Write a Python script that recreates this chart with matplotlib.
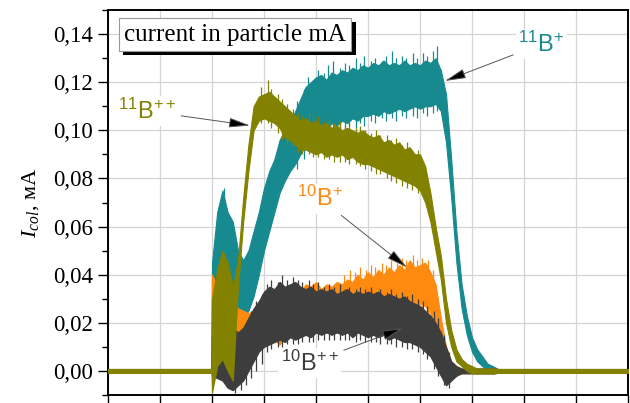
import numpy as np
import matplotlib
matplotlib.use("Agg")
import matplotlib.pyplot as plt
from matplotlib.ticker import MultipleLocator, FuncFormatter
from matplotlib import patheffects as pe

plt.rcParams['font.family'] = ['Liberation Serif', 'DejaVu Serif']
plt.rcParams['mathtext.fontset'] = 'custom'
plt.rcParams['mathtext.rm'] = 'Liberation Serif'
plt.rcParams['mathtext.it'] = 'Liberation Serif:italic'
plt.rcParams['mathtext.sf'] = 'Liberation Sans'

# время (усл. ед.), шаг 0.1 на участке импульса
t_pulse = np.round(np.arange(2.0, 7.45, 0.1), 2)
t_before = [0.0, 1.99]
t_after = [7.5, 10.0]
base_lo = [-0.0008, -0.0008]
base_hi = [0.0008, 0.0008]

# 11B+ (бирюзовый)
b11p_lo = [0.030, 0.038, 0.040, 0.042, 0.035, 0.024, 0.022, 0.025, 0.031, 0.040,
           0.050, 0.058, 0.066, 0.074, 0.079, 0.083, 0.086, 0.090, 0.094, 0.097,
           0.100, 0.101, 0.100, 0.103, 0.102, 0.104, 0.103, 0.105, 0.104, 0.106,
           0.106, 0.107, 0.106, 0.108, 0.107, 0.108, 0.109, 0.108, 0.109, 0.110,
           0.109, 0.110, 0.110, 0.111, 0.108, 0.095, 0.072, 0.045, 0.026, 0.015,
           0.008, 0.004, 0.002, 0.000, -0.001]
b11p_hi = [0.045, 0.066, 0.075, 0.066, 0.062, 0.050, 0.046, 0.050, 0.058, 0.066,
           0.076, 0.083, 0.088, 0.096, 0.100, 0.103, 0.108, 0.113, 0.118, 0.120,
           0.122, 0.123, 0.121, 0.124, 0.123, 0.125, 0.124, 0.126, 0.125, 0.127,
           0.126, 0.128, 0.127, 0.129, 0.127, 0.128, 0.127, 0.129, 0.127, 0.128,
           0.127, 0.129, 0.128, 0.130, 0.125, 0.115, 0.088, 0.058, 0.036, 0.023,
           0.014, 0.009, 0.006, 0.003, 0.002]

# 11B++ (оливковый)
b11pp_lo = [-0.009, 0.002, 0.005, 0.000, -0.004, 0.035, 0.062, 0.083, 0.100, 0.104,
            0.105, 0.104, 0.103, 0.101, 0.097, 0.096, 0.094, 0.092, 0.092, 0.091,
            0.090, 0.091, 0.089, 0.090, 0.089, 0.090, 0.088, 0.089, 0.087, 0.086,
            0.086, 0.085, 0.084, 0.083, 0.082, 0.081, 0.080, 0.079, 0.078, 0.077,
            0.075, 0.070, 0.062, 0.050, 0.038, 0.020, 0.010, 0.004, 0.002, 0.000,
            -0.001, -0.001, -0.001, -0.001, -0.001]
b11pp_hi = [0.030, 0.042, 0.050, 0.045, 0.035, 0.046, 0.072, 0.094, 0.110, 0.114,
            0.115, 0.116, 0.114, 0.112, 0.110, 0.108, 0.106, 0.104, 0.105, 0.103,
            0.104, 0.102, 0.103, 0.101, 0.102, 0.100, 0.101, 0.100, 0.099, 0.100,
            0.098, 0.097, 0.098, 0.095, 0.096, 0.094, 0.095, 0.092, 0.093, 0.090,
            0.090, 0.085, 0.074, 0.060, 0.048, 0.030, 0.017, 0.009, 0.005, 0.003,
            0.002, 0.001, 0.001, 0.001, 0.001]

# 10B+ (оранжевый)
b10p_lo = [0.000, 0.000, 0.000, 0.002, 0.008, 0.012, 0.014, 0.013, 0.012, 0.013,
           0.012, 0.012, 0.013, 0.011, 0.014, 0.015, 0.017, 0.018, 0.020, 0.019,
           0.021, 0.020, 0.022, 0.021, 0.023, 0.022, 0.024, 0.023, 0.025, 0.024,
           0.025, 0.026, 0.025, 0.027, 0.026, 0.027, 0.028, 0.027, 0.028, 0.027,
           0.028, 0.027, 0.024, 0.018, 0.008, 0.002, 0.000, -0.001, -0.001, -0.001,
           -0.001, -0.001, -0.001, -0.001, -0.001]
b10p_hi = [0.040, 0.035, 0.040, 0.032, 0.030, 0.026, 0.025, 0.024, 0.025, 0.027,
           0.028, 0.027, 0.029, 0.030, 0.030, 0.031, 0.032, 0.033, 0.036, 0.035,
           0.037, 0.034, 0.036, 0.035, 0.037, 0.036, 0.038, 0.037, 0.040, 0.038,
           0.041, 0.039, 0.042, 0.040, 0.043, 0.041, 0.044, 0.042, 0.046, 0.043,
           0.044, 0.045, 0.041, 0.036, 0.022, 0.010, 0.004, 0.002, 0.001, 0.001,
           0.001, 0.001, 0.001, 0.001, 0.001]

# 10B++ (тёмно-серый)
b10pp_lo = [-0.002, -0.003, -0.004, -0.007, -0.008, -0.006, -0.004, 0.000, 0.004, 0.008,
            0.010, 0.011, 0.012, 0.013, 0.012, 0.014, 0.013, 0.014, 0.015, 0.014,
            0.016, 0.015, 0.016, 0.015, 0.016, 0.015, 0.016, 0.014, 0.016, 0.015,
            0.014, 0.015, 0.014, 0.015, 0.013, 0.014, 0.013, 0.012, 0.012, 0.011,
            0.010, 0.008, 0.006, 0.002, -0.002, -0.006, -0.004, -0.002, -0.001, -0.001,
            -0.001, -0.001, -0.001, -0.001, -0.001]
b10pp_hi = [0.015, 0.015, 0.018, 0.020, 0.018, 0.016, 0.018, 0.022, 0.026, 0.029,
            0.033, 0.035, 0.034, 0.037, 0.035, 0.036, 0.037, 0.035, 0.034, 0.035,
            0.033, 0.034, 0.033, 0.034, 0.032, 0.033, 0.034, 0.032, 0.033, 0.032,
            0.033, 0.032, 0.033, 0.031, 0.032, 0.031, 0.030, 0.031, 0.029, 0.028,
            0.027, 0.025, 0.023, 0.020, 0.016, 0.010, 0.004, 0.002, 0.001, 0.001,
            0.001, 0.001, 0.001, 0.001, 0.001]

# отдельные выбросы шума: положение, низ, верх
b11p_spk_x = [2.23, 3.63, 3.76, 3.84, 3.97, 4.04, 4.16, 4.24, 4.33, 4.46, 4.55, 4.63,
              4.77, 4.85, 4.93, 5.06, 5.14, 5.27, 5.35, 5.46, 5.53, 5.66, 5.74, 5.86,
              5.94, 6.06, 6.14, 6.25, 6.33]
b11p_spk_lo = [0.045, 0.084, 0.088, 0.092, 0.094, 0.097, 0.096, 0.099, 0.098, 0.101, 0.100, 0.102,
               0.101, 0.103, 0.102, 0.104, 0.103, 0.105, 0.104, 0.105, 0.104, 0.106, 0.105, 0.106,
               0.105, 0.107, 0.106, 0.107, 0.108]
b11p_spk_hi = [0.076, 0.112, 0.117, 0.122, 0.121, 0.125, 0.124, 0.127, 0.129, 0.126, 0.128, 0.127,
               0.130, 0.128, 0.131, 0.129, 0.130, 0.129, 0.131, 0.133, 0.130, 0.131, 0.130, 0.132,
               0.130, 0.132, 0.131, 0.133, 0.135]
b11pp_spk_x = [2.95, 3.07, 3.14, 3.26, 3.35, 3.44, 3.56, 3.65, 3.74, 3.86, 3.95, 4.04,
               4.16, 4.25, 4.34, 4.46, 4.55, 4.64, 4.76, 4.85, 4.94, 5.06, 5.15, 5.24,
               5.36, 5.45, 5.54, 5.66, 5.75, 5.84, 5.96]
b11pp_spk_lo = [0.103, 0.103, 0.101, 0.099, 0.096, 0.094, 0.093, 0.091, 0.090, 0.090, 0.089, 0.089,
                0.088, 0.088, 0.087, 0.087, 0.087, 0.086, 0.086, 0.085, 0.084, 0.083, 0.082, 0.082,
                0.080, 0.079, 0.078, 0.077, 0.076, 0.075, 0.074]
b11pp_spk_hi = [0.118, 0.121, 0.117, 0.115, 0.113, 0.111, 0.109, 0.107, 0.106, 0.107, 0.105, 0.106,
                0.104, 0.105, 0.103, 0.104, 0.102, 0.103, 0.101, 0.102, 0.100, 0.099, 0.100, 0.098,
                0.098, 0.096, 0.097, 0.094, 0.095, 0.092, 0.092]
b10p_spk_x = [4.54, 4.66, 4.75, 4.84, 4.96, 5.05, 5.14, 5.26, 5.35, 5.44, 5.56, 5.65,
              5.74, 5.86, 5.95, 6.04, 6.16, 6.25]
b10p_spk_lo = [0.020, 0.021, 0.021, 0.022, 0.022, 0.023, 0.023, 0.024, 0.024, 0.025, 0.025, 0.025,
               0.026, 0.026, 0.026, 0.026, 0.024, 0.020]
b10p_spk_hi = [0.040, 0.042, 0.041, 0.043, 0.042, 0.044, 0.043, 0.045, 0.044, 0.046, 0.045, 0.047,
               0.046, 0.048, 0.046, 0.047, 0.046, 0.042]
b10pp_spk_x = [2.45, 2.55, 2.66, 2.75, 2.84, 2.96, 3.05, 3.14, 3.26, 3.35, 3.44, 3.56,
               3.65, 3.74, 3.86, 3.95, 4.04, 4.16, 4.25, 4.34, 4.46, 4.55, 4.64, 4.76,
               4.85, 4.94, 5.06, 5.15, 5.24, 5.36, 5.45, 5.54, 5.66, 5.75, 5.84, 5.96,
               6.05, 6.14, 6.26, 6.35, 6.46, 6.55]
b10pp_spk_lo = [-0.009, -0.008, -0.006, -0.003, 0.000, 0.003, 0.008, 0.009, 0.010, 0.010, 0.011, 0.011,
                0.011, 0.012, 0.012, 0.012, 0.013, 0.013, 0.013, 0.013, 0.013, 0.013, 0.013, 0.012,
                0.013, 0.012, 0.012, 0.012, 0.011, 0.011, 0.011, 0.010, 0.010, 0.009, 0.009, 0.008,
                0.007, 0.005, 0.001, -0.002, -0.006, -0.007]
b10pp_spk_hi = [0.012, 0.015, 0.020, 0.025, 0.029, 0.032, 0.036, 0.038, 0.037, 0.040, 0.038, 0.039,
                0.038, 0.037, 0.038, 0.036, 0.037, 0.035, 0.036, 0.035, 0.036, 0.034, 0.035, 0.034,
                0.035, 0.034, 0.035, 0.033, 0.034, 0.033, 0.034, 0.032, 0.033, 0.031, 0.032, 0.030,
                0.029, 0.027, 0.025, 0.022, 0.015, 0.008]

c_11p, c_10p, c_10pp, c_11pp = '#178a8f', '#ff8a10', '#3d3d3d', '#828200'

series = [
    (b11p_lo, b11p_hi, b11p_spk_x, b11p_spk_lo, b11p_spk_hi, c_11p, 1),
    (b10p_lo, b10p_hi, b10p_spk_x, b10p_spk_lo, b10p_spk_hi, c_10p, 2),
    (b10pp_lo, b10pp_hi, b10pp_spk_x, b10pp_spk_lo, b10pp_spk_hi, c_10pp, 3),
    (b11pp_lo, b11pp_hi, b11pp_spk_x, b11pp_spk_lo, b11pp_spk_hi, c_11pp, 4),
]

fig = plt.figure(figsize=(6.3, 4.03), dpi=100)
ax = fig.add_axes([108 / 630, 1 - 395 / 403, 520 / 630, 385 / 403])

for lo, hi, sx, slo, shi, col, z in series:
    x = np.concatenate([t_before, t_pulse, t_after])
    ylo = np.concatenate([base_lo, lo, base_lo])
    yhi = np.concatenate([base_hi, hi, base_hi])
    ax.fill_between(x, ylo, yhi, color=col, lw=0.8, ec=col, zorder=z)
    ax.vlines(sx, slo, shi, color=col, lw=0.9, zorder=z)

ax.set_xlim(0, 10)
ax.set_ylim(-0.01, 0.15)
ax.xaxis.set_major_locator(MultipleLocator(1))
ax.yaxis.set_major_locator(MultipleLocator(0.02))
ax.yaxis.set_minor_locator(MultipleLocator(0.01))
ax.yaxis.set_major_formatter(FuncFormatter(lambda v, p: f"{v:.2f}".replace('.', ',')))
ax.tick_params(axis='x', labelbottom=False, direction='out', length=7, width=1)
ax.tick_params(axis='y', which='major', direction='out', length=7, width=1,
               labelsize=16.5, pad=4)
ax.tick_params(axis='y', which='minor', direction='out', length=4, width=1)
ax.grid(True, which='major', color='#d4d4d4', lw=0.9, zorder=0)
ax.set_axisbelow(True)
for s in ax.spines.values():
    s.set_linewidth(1.4)

ax.set_ylabel(r"$I_{col}$, мА", fontsize=16)
ax.yaxis.set_label_coords(-0.128, 0.5)

box = ax.text(0.031, 0.936, "current in particle mA", transform=ax.transAxes,
              fontsize=18, va='center', ha='left', zorder=10,
              bbox=dict(boxstyle='square,pad=0.22', fc='white', ec='#999999', lw=0.8))
box.get_bbox_patch().set_path_effects(
    [pe.SimplePatchShadow(offset=(3, -3), shadow_rgbFace='black', alpha=1), pe.Normal()])

arrow = dict(arrowstyle='-|>,head_length=1.3,head_width=0.3', mutation_scale=10,
             fc='black', ec='#555555', lw=0.7, shrinkA=2, shrinkB=0)
lbl = dict(fontsize=17, ha='center', va='center', zorder=10,
           bbox=dict(boxstyle='square,pad=0.1', fc='white', ec='none'))

ax.annotate(r"$\mathsf{^{11}B^{+}}$", xy=(6.48, 0.1205), xytext=(8.33, 0.1358),
            color=c_11p, arrowprops=arrow, **lbl)
ax.annotate(r"$\mathsf{^{11}B^{++}}$", xy=(2.73, 0.102), xytext=(0.75, 0.108),
            color=c_11pp, arrowprops=arrow, **lbl)
ax.annotate(r"$\mathsf{^{10}B^{+}}$", xy=(5.75, 0.043), xytext=(4.08, 0.0716),
            color=c_10p, arrowprops=arrow, **lbl)
ax.annotate(r"$\mathsf{^{10}B^{++}}$", xy=(5.67, 0.0178), xytext=(3.88, 0.0033),
            color=c_10pp, arrowprops=arrow, **lbl)

fig.savefig("out.png", dpi=100)
